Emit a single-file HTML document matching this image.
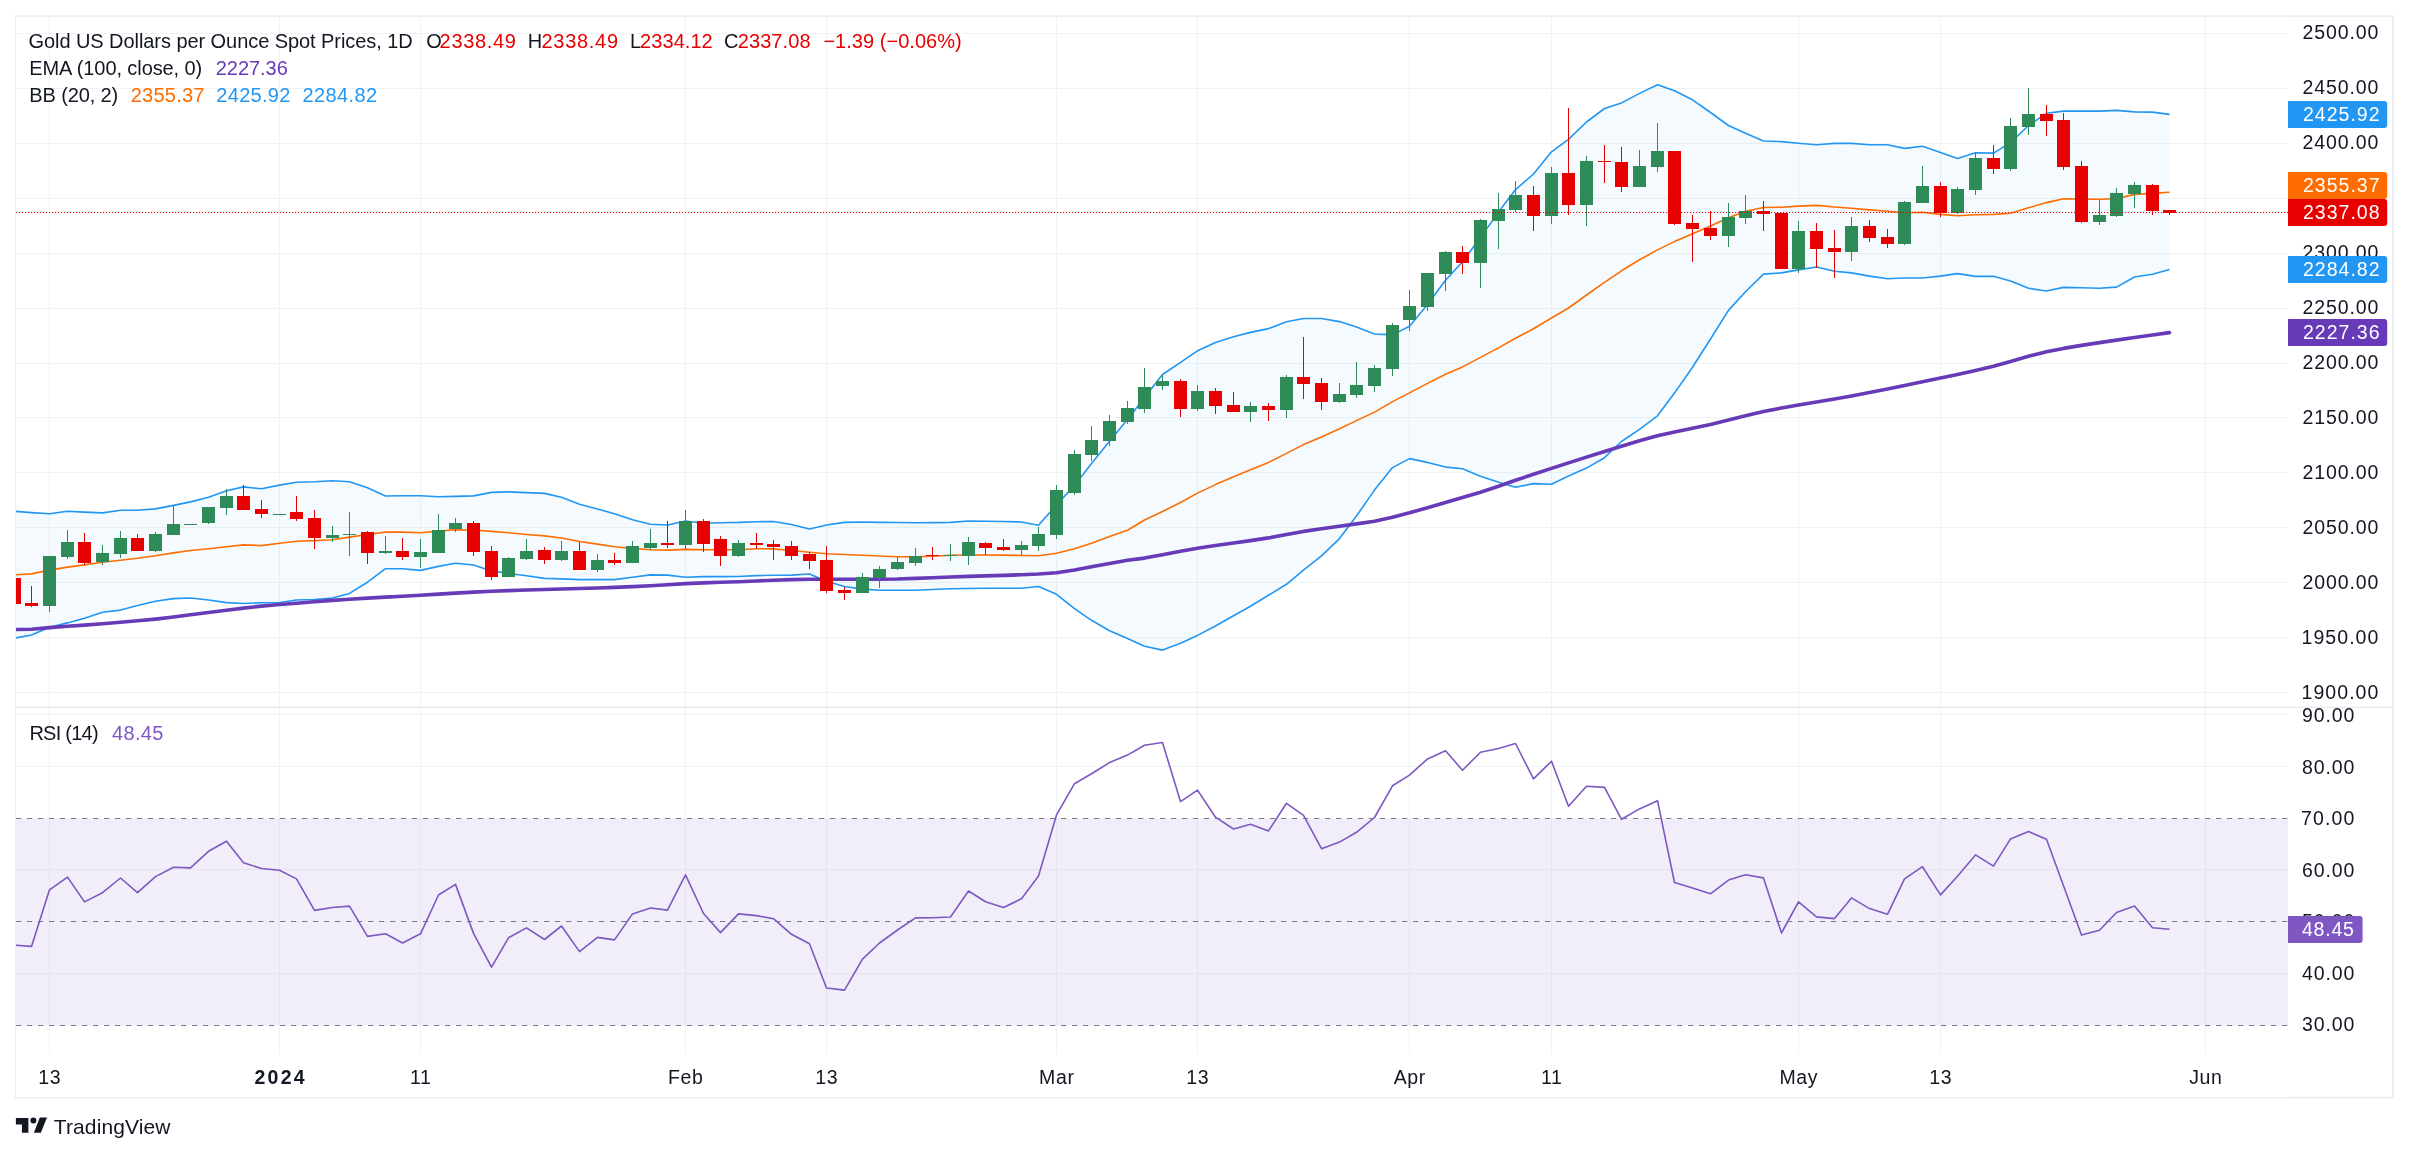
<!DOCTYPE html>
<html><head><meta charset="utf-8"><title>Gold chart</title>
<style>html,body{margin:0;padding:0;background:#fff;width:2409px;height:1154px;overflow:hidden}svg text{font-family:"Liberation Sans", sans-serif}</style>
</head><body>
<svg width="2409" height="1154" viewBox="0 0 2409 1154" style="display:block;will-change:transform">
<defs><clipPath id="plot"><rect x="16.0" y="17.2" width="2272.0" height="1079.8"/></clipPath></defs>
<rect width="2409" height="1154" fill="#fff"/>
<rect x="16" y="16.2" width="2377" height="1081.5" fill="none" stroke="#eceef5" stroke-width="2"/>
<rect x="16" y="17.2" width="2272.0" height="1079.5" fill="#fff"/>
<path d="M16.0 692.5H2288.0M16.0 637.5H2288.0M16.0 582.5H2288.0M16.0 527.5H2288.0M16.0 472.5H2288.0M16.0 417.5H2288.0M16.0 363.5H2288.0M16.0 308.5H2288.0M16.0 253.5H2288.0M16.0 198.5H2288.0M16.0 143.5H2288.0M16.0 88.5H2288.0M16.0 33.5H2288.0M16.0 714.5H2288.0M16.0 766.5H2288.0M16.0 869.5H2288.0M16.0 973.5H2288.0M49.5 17.2V1054.0M279.5 17.2V1054.0M420.5 17.2V1054.0M685.5 17.2V1054.0M826.5 17.2V1054.0M1056.5 17.2V1054.0M1197.5 17.2V1054.0M1409.5 17.2V1054.0M1551.5 17.2V1054.0M1798.5 17.2V1054.0M1940.5 17.2V1054.0M2205.5 17.2V1054.0" stroke="#f0f3f4" stroke-width="1" fill="none"/>
<rect x="16.0" y="818.5" width="2272.0" height="207.0" fill="#7e57c2" fill-opacity="0.1"/>
<path d="M16 818.5H2288.0" stroke="#787b86" stroke-width="1.1" stroke-dasharray="5.2 5.8" fill="none"/>
<path d="M16 921.5H2288.0" stroke="#787b86" stroke-width="1.1" stroke-dasharray="5.2 5.8" fill="none"/>
<path d="M16 1025.5H2288.0" stroke="#787b86" stroke-width="1.1" stroke-dasharray="5.2 5.8" fill="none"/>
<g clip-path="url(#plot)">
<polygon points="14.5,511.3 31.5,512.6 49.5,513.7 67.5,511.3 84.5,512.1 102.5,512.9 120.5,510.3 137.5,510.3 155.5,508.9 173.5,505.4 190.5,501.9 208.5,497.3 226.5,490.8 243.5,486.9 261.5,488.8 279.5,485.1 296.5,482.2 314.5,481.7 332.5,480.8 349.5,481.7 367.5,487.7 385.5,496.0 402.5,495.7 420.5,495.7 438.5,496.7 455.5,496.4 473.5,495.9 491.5,492.4 508.5,491.9 526.5,492.6 544.5,493.4 561.5,497.3 579.5,504.2 597.5,509.0 614.5,513.7 632.5,519.8 650.5,524.3 667.5,525.0 685.5,521.0 703.5,523.3 720.5,522.7 738.5,522.4 756.5,521.7 773.5,521.5 791.5,524.5 809.5,529.0 826.5,525.0 844.5,522.4 862.5,522.0 879.5,522.4 897.5,522.5 915.5,522.7 932.5,522.6 950.5,522.4 968.5,521.0 985.5,521.3 1003.5,521.5 1021.5,522.0 1038.5,525.3 1056.5,504.9 1074.5,485.5 1091.5,463.6 1109.5,441.2 1127.5,419.6 1144.5,397.6 1162.5,374.5 1180.5,362.4 1197.5,350.8 1215.5,342.5 1233.5,336.7 1250.5,332.4 1268.5,328.6 1286.5,321.7 1303.5,318.5 1321.5,318.5 1339.5,321.6 1356.5,327.1 1374.5,334.0 1392.5,334.9 1409.5,326.2 1427.5,304.5 1445.5,280.3 1462.5,261.7 1480.5,237.4 1498.5,212.1 1515.5,189.6 1533.5,174.0 1551.5,151.8 1568.5,139.3 1586.5,122.0 1604.5,108.5 1621.5,102.9 1639.5,93.4 1657.5,84.7 1674.5,90.8 1692.5,99.8 1710.5,112.5 1728.5,125.5 1745.5,133.3 1763.5,141.0 1781.5,141.6 1798.5,143.2 1816.5,144.8 1834.5,143.4 1851.5,143.4 1869.5,144.8 1887.5,144.8 1904.5,148.4 1922.5,146.3 1940.5,152.4 1957.5,158.5 1975.5,152.7 1993.5,153.1 2010.5,142.6 2028.5,125.5 2046.5,113.3 2063.5,111.1 2081.5,111.1 2099.5,111.1 2116.5,110.4 2134.5,111.9 2152.5,112.1 2169.5,114.4 2169.5,269.5 2152.5,274.3 2134.5,277.0 2116.5,287.1 2099.5,288.3 2081.5,287.8 2063.5,287.4 2046.5,291.0 2028.5,288.3 2010.5,281.0 1993.5,276.3 1975.5,276.4 1957.5,273.6 1940.5,276.1 1922.5,278.0 1904.5,278.0 1887.5,278.7 1869.5,276.1 1851.5,272.9 1834.5,271.3 1816.5,267.0 1798.5,269.9 1781.5,272.9 1763.5,274.1 1745.5,291.7 1728.5,310.4 1710.5,339.0 1692.5,367.2 1674.5,393.1 1657.5,415.8 1639.5,429.3 1621.5,441.5 1604.5,457.7 1586.5,468.1 1568.5,476.0 1551.5,484.3 1533.5,483.6 1515.5,487.2 1498.5,482.2 1480.5,476.2 1462.5,468.7 1445.5,467.1 1427.5,462.4 1409.5,458.6 1392.5,467.6 1374.5,490.1 1356.5,516.0 1339.5,538.6 1321.5,555.9 1303.5,570.1 1286.5,584.3 1268.5,595.3 1250.5,606.2 1233.5,615.8 1215.5,626.0 1197.5,635.4 1180.5,643.3 1162.5,650.1 1144.5,646.3 1127.5,638.5 1109.5,630.7 1091.5,620.3 1074.5,608.7 1056.5,594.3 1038.5,586.5 1021.5,588.2 1003.5,588.2 985.5,588.3 968.5,588.5 950.5,588.8 932.5,589.5 915.5,590.3 897.5,590.2 879.5,590.2 862.5,589.1 844.5,586.5 826.5,581.3 809.5,574.0 791.5,575.1 773.5,575.3 756.5,575.6 738.5,576.5 720.5,576.6 703.5,576.6 685.5,577.3 667.5,575.1 650.5,574.9 632.5,577.2 614.5,579.6 597.5,579.6 579.5,579.6 561.5,578.9 544.5,578.4 526.5,575.8 508.5,573.5 491.5,570.9 473.5,565.0 455.5,563.3 438.5,566.4 420.5,570.4 402.5,568.8 385.5,568.7 367.5,582.2 349.5,593.4 332.5,598.1 314.5,599.5 296.5,600.0 279.5,602.5 261.5,602.8 243.5,603.5 226.5,602.6 208.5,600.0 190.5,598.0 173.5,598.6 155.5,601.2 137.5,605.6 120.5,610.1 102.5,612.2 84.5,618.2 67.5,622.9 49.5,627.2 31.5,635.0 14.5,638.2" fill="#2196f3" fill-opacity="0.05"/>
<polyline points="14.5,574.8 31.5,573.9 49.5,570.1 67.5,567.1 84.5,564.9 102.5,562.3 120.5,560.2 137.5,558.3 155.5,555.7 173.5,552.9 190.5,550.5 208.5,548.7 226.5,546.7 243.5,544.9 261.5,545.6 279.5,543.2 296.5,541.2 314.5,540.6 332.5,539.7 349.5,537.1 367.5,534.5 385.5,532.1 402.5,532.1 420.5,532.8 438.5,531.1 455.5,529.7 473.5,530.0 491.5,531.4 508.5,532.8 526.5,534.5 544.5,535.9 561.5,538.0 579.5,541.5 597.5,544.1 614.5,546.7 632.5,548.4 650.5,549.8 667.5,550.1 685.5,549.4 703.5,549.8 720.5,549.8 738.5,549.8 756.5,548.7 773.5,548.9 791.5,550.5 809.5,552.2 826.5,553.8 844.5,554.5 862.5,555.3 879.5,556.0 897.5,556.7 915.5,556.7 932.5,556.2 950.5,555.3 968.5,554.8 985.5,555.0 1003.5,555.1 1021.5,555.5 1038.5,555.8 1056.5,553.2 1074.5,548.7 1091.5,543.2 1109.5,536.6 1127.5,530.2 1144.5,520.0 1162.5,511.5 1180.5,502.5 1197.5,493.1 1215.5,484.6 1233.5,476.7 1250.5,469.8 1268.5,462.4 1286.5,453.4 1303.5,444.6 1321.5,436.9 1339.5,428.8 1356.5,420.6 1374.5,412.1 1392.5,401.6 1409.5,392.9 1427.5,383.4 1445.5,374.2 1462.5,366.9 1480.5,357.4 1498.5,347.9 1515.5,338.3 1533.5,328.8 1551.5,318.0 1568.5,308.0 1586.5,295.0 1604.5,282.3 1621.5,270.8 1639.5,259.8 1657.5,249.9 1674.5,241.6 1692.5,233.8 1710.5,226.0 1728.5,217.8 1745.5,211.3 1763.5,207.5 1781.5,207.3 1798.5,206.1 1816.5,205.4 1834.5,207.0 1851.5,208.2 1869.5,209.9 1887.5,211.3 1904.5,212.7 1922.5,212.2 1940.5,214.4 1957.5,215.8 1975.5,214.8 1993.5,214.4 2010.5,213.3 2028.5,207.8 2046.5,202.6 2063.5,198.8 2081.5,199.1 2099.5,199.3 2116.5,198.6 2134.5,194.4 2152.5,193.4 2169.5,192.2" fill="none" stroke="#ff6d00" stroke-width="1.6" stroke-linejoin="round"/>
<polyline points="14.5,511.3 31.5,512.6 49.5,513.7 67.5,511.3 84.5,512.1 102.5,512.9 120.5,510.3 137.5,510.3 155.5,508.9 173.5,505.4 190.5,501.9 208.5,497.3 226.5,490.8 243.5,486.9 261.5,488.8 279.5,485.1 296.5,482.2 314.5,481.7 332.5,480.8 349.5,481.7 367.5,487.7 385.5,496.0 402.5,495.7 420.5,495.7 438.5,496.7 455.5,496.4 473.5,495.9 491.5,492.4 508.5,491.9 526.5,492.6 544.5,493.4 561.5,497.3 579.5,504.2 597.5,509.0 614.5,513.7 632.5,519.8 650.5,524.3 667.5,525.0 685.5,521.0 703.5,523.3 720.5,522.7 738.5,522.4 756.5,521.7 773.5,521.5 791.5,524.5 809.5,529.0 826.5,525.0 844.5,522.4 862.5,522.0 879.5,522.4 897.5,522.5 915.5,522.7 932.5,522.6 950.5,522.4 968.5,521.0 985.5,521.3 1003.5,521.5 1021.5,522.0 1038.5,525.3 1056.5,504.9 1074.5,485.5 1091.5,463.6 1109.5,441.2 1127.5,419.6 1144.5,397.6 1162.5,374.5 1180.5,362.4 1197.5,350.8 1215.5,342.5 1233.5,336.7 1250.5,332.4 1268.5,328.6 1286.5,321.7 1303.5,318.5 1321.5,318.5 1339.5,321.6 1356.5,327.1 1374.5,334.0 1392.5,334.9 1409.5,326.2 1427.5,304.5 1445.5,280.3 1462.5,261.7 1480.5,237.4 1498.5,212.1 1515.5,189.6 1533.5,174.0 1551.5,151.8 1568.5,139.3 1586.5,122.0 1604.5,108.5 1621.5,102.9 1639.5,93.4 1657.5,84.7 1674.5,90.8 1692.5,99.8 1710.5,112.5 1728.5,125.5 1745.5,133.3 1763.5,141.0 1781.5,141.6 1798.5,143.2 1816.5,144.8 1834.5,143.4 1851.5,143.4 1869.5,144.8 1887.5,144.8 1904.5,148.4 1922.5,146.3 1940.5,152.4 1957.5,158.5 1975.5,152.7 1993.5,153.1 2010.5,142.6 2028.5,125.5 2046.5,113.3 2063.5,111.1 2081.5,111.1 2099.5,111.1 2116.5,110.4 2134.5,111.9 2152.5,112.1 2169.5,114.4" fill="none" stroke="#2196f3" stroke-width="1.6" stroke-linejoin="round"/>
<polyline points="14.5,638.2 31.5,635.0 49.5,627.2 67.5,622.9 84.5,618.2 102.5,612.2 120.5,610.1 137.5,605.6 155.5,601.2 173.5,598.6 190.5,598.0 208.5,600.0 226.5,602.6 243.5,603.5 261.5,602.8 279.5,602.5 296.5,600.0 314.5,599.5 332.5,598.1 349.5,593.4 367.5,582.2 385.5,568.7 402.5,568.8 420.5,570.4 438.5,566.4 455.5,563.3 473.5,565.0 491.5,570.9 508.5,573.5 526.5,575.8 544.5,578.4 561.5,578.9 579.5,579.6 597.5,579.6 614.5,579.6 632.5,577.2 650.5,574.9 667.5,575.1 685.5,577.3 703.5,576.6 720.5,576.6 738.5,576.5 756.5,575.6 773.5,575.3 791.5,575.1 809.5,574.0 826.5,581.3 844.5,586.5 862.5,589.1 879.5,590.2 897.5,590.2 915.5,590.3 932.5,589.5 950.5,588.8 968.5,588.5 985.5,588.3 1003.5,588.2 1021.5,588.2 1038.5,586.5 1056.5,594.3 1074.5,608.7 1091.5,620.3 1109.5,630.7 1127.5,638.5 1144.5,646.3 1162.5,650.1 1180.5,643.3 1197.5,635.4 1215.5,626.0 1233.5,615.8 1250.5,606.2 1268.5,595.3 1286.5,584.3 1303.5,570.1 1321.5,555.9 1339.5,538.6 1356.5,516.0 1374.5,490.1 1392.5,467.6 1409.5,458.6 1427.5,462.4 1445.5,467.1 1462.5,468.7 1480.5,476.2 1498.5,482.2 1515.5,487.2 1533.5,483.6 1551.5,484.3 1568.5,476.0 1586.5,468.1 1604.5,457.7 1621.5,441.5 1639.5,429.3 1657.5,415.8 1674.5,393.1 1692.5,367.2 1710.5,339.0 1728.5,310.4 1745.5,291.7 1763.5,274.1 1781.5,272.9 1798.5,269.9 1816.5,267.0 1834.5,271.3 1851.5,272.9 1869.5,276.1 1887.5,278.7 1904.5,278.0 1922.5,278.0 1940.5,276.1 1957.5,273.6 1975.5,276.4 1993.5,276.3 2010.5,281.0 2028.5,288.3 2046.5,291.0 2063.5,287.4 2081.5,287.8 2099.5,288.3 2116.5,287.1 2134.5,277.0 2152.5,274.3 2169.5,269.5" fill="none" stroke="#2196f3" stroke-width="1.6" stroke-linejoin="round"/>
<polyline points="14.5,629.5 31.5,629.3 49.5,627.6 67.5,626.3 84.5,625.1 102.5,623.8 120.5,622.3 137.5,620.8 155.5,619.1 173.5,617.0 190.5,614.8 208.5,612.5 226.5,610.2 243.5,608.1 261.5,606.1 279.5,604.5 296.5,603.2 314.5,601.8 332.5,600.4 349.5,599.2 367.5,598.1 385.5,597.1 402.5,596.2 420.5,595.2 438.5,594.1 455.5,593.1 473.5,592.1 491.5,591.3 508.5,590.6 526.5,590.0 544.5,589.5 561.5,589.0 579.5,588.5 597.5,588.0 614.5,587.4 632.5,586.6 650.5,585.7 667.5,584.8 685.5,583.6 703.5,582.9 720.5,582.3 738.5,581.7 756.5,581.0 773.5,580.2 791.5,579.6 809.5,579.2 826.5,579.2 844.5,579.2 862.5,579.2 879.5,579.2 897.5,579.0 915.5,578.4 932.5,577.7 950.5,577.0 968.5,576.4 985.5,575.9 1003.5,575.4 1021.5,574.7 1038.5,574.0 1056.5,572.7 1074.5,570.0 1091.5,566.8 1109.5,563.5 1127.5,560.3 1144.5,558.1 1162.5,554.8 1180.5,551.2 1197.5,548.2 1215.5,545.5 1233.5,543.0 1250.5,540.6 1268.5,537.9 1286.5,534.5 1303.5,531.4 1321.5,528.7 1339.5,526.2 1356.5,523.9 1374.5,521.2 1392.5,517.2 1409.5,512.8 1427.5,507.7 1445.5,502.4 1462.5,497.4 1480.5,492.2 1498.5,486.3 1515.5,480.3 1533.5,474.3 1551.5,468.4 1568.5,462.9 1586.5,457.1 1604.5,451.5 1621.5,446.2 1639.5,440.7 1657.5,435.8 1674.5,432.0 1692.5,428.3 1710.5,424.5 1728.5,420.1 1745.5,415.7 1763.5,411.5 1781.5,408.0 1798.5,405.0 1816.5,402.0 1834.5,399.0 1851.5,395.9 1869.5,392.4 1887.5,388.9 1904.5,385.5 1922.5,381.8 1940.5,378.1 1957.5,374.4 1975.5,370.5 1993.5,366.3 2010.5,361.6 2028.5,356.3 2046.5,351.7 2063.5,348.4 2081.5,345.4 2099.5,342.6 2116.5,340.1 2134.5,337.5 2152.5,335.0 2169.5,332.6" fill="none" stroke="#673ab7" stroke-width="3.6" stroke-linejoin="round" stroke-linecap="round"/>
<path d="M49.0 556h1V612h-1zM43.0 556h13v50h-13zM67.0 530h1V559h-1zM61.0 542h13v15h-13zM102.0 545h1V565h-1zM96.0 553h13v9h-13zM120.0 531h1V558h-1zM114.0 538h13v16h-13zM155.0 532h1V552h-1zM149.0 534h13v17h-13zM173.0 505h1V535h-1zM167.0 524h13v11h-13zM190.0 524h1V525h-1zM184.0 524h13v1h-13zM208.0 507h1V524h-1zM202.0 507h13v16h-13zM226.0 489h1V515h-1zM220.0 496h13v12h-13zM279.0 514h1V515h-1zM273.0 514h13v1h-13zM332.0 526h1V542h-1zM326.0 535h13v3h-13zM349.0 512h1V556h-1zM343.0 534h13v1h-13zM385.0 536h1V554h-1zM379.0 551h13v2h-13zM420.0 539h1V568h-1zM414.0 552h13v5h-13zM438.0 514h1V553h-1zM432.0 530h13v23h-13zM455.0 518h1V532h-1zM449.0 523h13v6h-13zM508.0 557h1V577h-1zM502.0 558h13v19h-13zM526.0 539h1V560h-1zM520.0 551h13v8h-13zM561.0 541h1V561h-1zM555.0 551h13v9h-13zM597.0 554h1V572h-1zM591.0 560h13v10h-13zM632.0 541h1V563h-1zM626.0 546h13v17h-13zM650.0 529h1V550h-1zM644.0 543h13v5h-13zM685.0 510h1V549h-1zM679.0 521h13v24h-13zM738.0 540h1V557h-1zM732.0 543h13v13h-13zM862.0 573h1V593h-1zM856.0 577h13v16h-13zM879.0 566h1V588h-1zM873.0 569h13v9h-13zM897.0 557h1V570h-1zM891.0 562h13v7h-13zM915.0 548h1V566h-1zM909.0 556h13v7h-13zM950.0 544h1V561h-1zM944.0 555h13v1h-13zM968.0 537h1V565h-1zM962.0 542h13v14h-13zM1021.0 541h1V555h-1zM1015.0 545h13v5h-13zM1038.0 527h1V551h-1zM1032.0 534h13v12h-13zM1056.0 485h1V539h-1zM1050.0 490h13v45h-13zM1074.0 450h1V495h-1zM1068.0 454h13v39h-13zM1091.0 426h1V461h-1zM1085.0 440h13v15h-13zM1109.0 415h1V446h-1zM1103.0 421h13v20h-13zM1127.0 401h1V424h-1zM1121.0 408h13v14h-13zM1144.0 368h1V413h-1zM1138.0 387h13v22h-13zM1162.0 375h1V390h-1zM1156.0 381h13v5h-13zM1197.0 385h1V411h-1zM1191.0 391h13v18h-13zM1250.0 402h1V422h-1zM1244.0 406h13v6h-13zM1286.0 375h1V418h-1zM1280.0 377h13v33h-13zM1339.0 383h1V403h-1zM1333.0 394h13v8h-13zM1356.0 362h1V398h-1zM1350.0 385h13v10h-13zM1374.0 365h1V392h-1zM1368.0 368h13v18h-13zM1392.0 323h1V376h-1zM1386.0 325h13v44h-13zM1409.0 290h1V331h-1zM1403.0 306h13v14h-13zM1427.0 273h1V311h-1zM1421.0 273h13v34h-13zM1445.0 251h1V291h-1zM1439.0 252h13v22h-13zM1480.0 219h1V288h-1zM1474.0 220h13v43h-13zM1498.0 193h1V249h-1zM1492.0 209h13v12h-13zM1515.0 181h1V212h-1zM1509.0 195h13v15h-13zM1551.0 167h1V224h-1zM1545.0 173h13v43h-13zM1586.0 156h1V226h-1zM1580.0 161h13v44h-13zM1639.0 150h1V187h-1zM1633.0 166h13v21h-13zM1657.0 123h1V172h-1zM1651.0 151h13v16h-13zM1728.0 203h1V247h-1zM1722.0 217h13v19h-13zM1745.0 195h1V224h-1zM1739.0 211h13v7h-13zM1798.0 221h1V273h-1zM1792.0 231h13v38h-13zM1851.0 217h1V261h-1zM1845.0 226h13v26h-13zM1904.0 201h1V245h-1zM1898.0 202h13v42h-13zM1922.0 166h1V203h-1zM1916.0 186h13v17h-13zM1957.0 187h1V214h-1zM1951.0 189h13v24h-13zM1975.0 153h1V195h-1zM1969.0 158h13v32h-13zM2010.0 118h1V171h-1zM2004.0 126h13v43h-13zM2028.0 88h1V135h-1zM2022.0 114h13v13h-13zM2099.0 200h1V225h-1zM2093.0 215h13v7h-13zM2116.0 188h1V217h-1zM2110.0 193h13v23h-13zM2134.0 182h1V208h-1zM2128.0 185h13v9h-13z" fill="#2e8b57"/>
<path d="M14.0 578h1V604h-1zM8.0 578h13v26h-13zM31.0 586h1V607h-1zM25.0 603h13v3h-13zM84.0 533h1V565h-1zM78.0 542h13v21h-13zM137.0 534h1V551h-1zM131.0 538h13v13h-13zM243.0 485h1V510h-1zM237.0 496h13v14h-13zM261.0 500h1V518h-1zM255.0 509h13v5h-13zM296.0 496h1V521h-1zM290.0 512h13v7h-13zM314.0 510h1V549h-1zM308.0 518h13v20h-13zM367.0 531h1V564h-1zM361.0 532h13v21h-13zM402.0 538h1V560h-1zM396.0 551h13v6h-13zM473.0 521h1V556h-1zM467.0 523h13v29h-13zM491.0 546h1V580h-1zM485.0 551h13v26h-13zM544.0 547h1V564h-1zM538.0 550h13v10h-13zM579.0 542h1V570h-1zM573.0 551h13v19h-13zM614.0 553h1V565h-1zM608.0 560h13v3h-13zM667.0 521h1V548h-1zM661.0 543h13v2h-13zM703.0 519h1V552h-1zM697.0 521h13v23h-13zM720.0 536h1V566h-1zM714.0 539h13v17h-13zM756.0 533h1V549h-1zM750.0 543h13v2h-13zM773.0 540h1V560h-1zM767.0 544h13v3h-13zM791.0 541h1V560h-1zM785.0 546h13v10h-13zM809.0 552h1V569h-1zM803.0 554h13v7h-13zM826.0 546h1V593h-1zM820.0 560h13v31h-13zM844.0 587h1V600h-1zM838.0 590h13v3h-13zM932.0 547h1V560h-1zM926.0 555h13v1h-13zM985.0 542h1V555h-1zM979.0 543h13v5h-13zM1003.0 539h1V551h-1zM997.0 547h13v3h-13zM1180.0 379h1V417h-1zM1174.0 381h13v28h-13zM1215.0 388h1V414h-1zM1209.0 391h13v15h-13zM1233.0 392h1V412h-1zM1227.0 405h13v7h-13zM1268.0 403h1V421h-1zM1262.0 406h13v4h-13zM1303.0 337h1V399h-1zM1297.0 377h13v7h-13zM1321.0 378h1V410h-1zM1315.0 383h13v19h-13zM1462.0 246h1V274h-1zM1456.0 252h13v11h-13zM1533.0 186h1V231h-1zM1527.0 195h13v21h-13zM1568.0 108h1V215h-1zM1562.0 173h13v32h-13zM1604.0 145h1V183h-1zM1598.0 161h13v1h-13zM1621.0 147h1V192h-1zM1615.0 162h13v25h-13zM1674.0 151h1V225h-1zM1668.0 151h13v73h-13zM1692.0 215h1V262h-1zM1686.0 223h13v6h-13zM1710.0 211h1V240h-1zM1704.0 228h13v8h-13zM1763.0 201h1V231h-1zM1757.0 211h13v3h-13zM1781.0 213h1V269h-1zM1775.0 213h13v56h-13zM1816.0 223h1V268h-1zM1810.0 231h13v18h-13zM1834.0 230h1V278h-1zM1828.0 248h13v4h-13zM1869.0 220h1V242h-1zM1863.0 226h13v12h-13zM1887.0 229h1V248h-1zM1881.0 237h13v7h-13zM1940.0 182h1V217h-1zM1934.0 186h13v27h-13zM1993.0 145h1V174h-1zM1987.0 158h13v11h-13zM2046.0 105h1V136h-1zM2040.0 114h13v7h-13zM2063.0 113h1V170h-1zM2057.0 120h13v47h-13zM2081.0 161h1V223h-1zM2075.0 166h13v56h-13zM2152.0 184h1V215h-1zM2146.0 185h13v26h-13zM2169.0 210h1V215h-1zM2163.0 210h13v3h-13z" fill="#e60000"/>
<polyline points="14.5,945.2 31.5,946.4 49.5,889.8 67.5,877.1 84.5,901.9 102.5,892.7 120.5,878.0 137.5,892.7 155.5,876.6 173.5,867.2 190.5,867.9 208.5,851.3 226.5,841.2 243.5,862.7 261.5,868.5 279.5,870.2 296.5,878.9 314.5,910.4 332.5,907.5 349.5,906.1 367.5,936.4 385.5,933.8 402.5,943.0 420.5,933.8 438.5,895.0 455.5,884.4 473.5,933.4 491.5,967.2 508.5,937.8 526.5,927.9 544.5,939.5 561.5,926.0 579.5,951.6 597.5,937.4 614.5,939.9 632.5,913.9 650.5,908.0 667.5,910.1 685.5,874.9 703.5,913.5 720.5,932.6 738.5,913.9 756.5,915.6 773.5,918.7 791.5,934.3 809.5,943.8 826.5,988.0 844.5,990.1 862.5,959.1 879.5,943.0 897.5,930.0 915.5,917.9 932.5,917.7 950.5,917.0 968.5,891.0 985.5,901.7 1003.5,907.5 1021.5,898.8 1038.5,875.9 1056.5,814.9 1074.5,783.7 1091.5,773.8 1109.5,762.6 1127.5,755.1 1144.5,745.3 1162.5,742.5 1180.5,801.6 1197.5,790.1 1215.5,817.2 1233.5,829.0 1250.5,824.3 1268.5,830.9 1286.5,803.3 1303.5,815.3 1321.5,848.7 1339.5,842.1 1356.5,832.3 1374.5,817.5 1392.5,785.8 1409.5,775.1 1427.5,758.9 1445.5,750.8 1462.5,770.2 1480.5,752.2 1498.5,748.5 1515.5,743.5 1533.5,778.9 1551.5,761.2 1568.5,806.3 1586.5,786.3 1604.5,787.4 1621.5,819.3 1639.5,808.9 1657.5,800.7 1674.5,882.5 1692.5,888.1 1710.5,893.8 1728.5,880.1 1745.5,874.8 1763.5,877.9 1781.5,933.0 1798.5,901.8 1816.5,916.9 1834.5,918.6 1851.5,897.9 1869.5,908.6 1887.5,914.3 1904.5,878.8 1922.5,866.7 1940.5,894.9 1957.5,876.2 1975.5,854.9 1993.5,866.1 2010.5,838.9 2028.5,831.6 2046.5,839.3 2063.5,885.7 2081.5,935.1 2099.5,930.3 2116.5,912.5 2134.5,905.9 2152.5,927.8 2169.5,929.3" fill="none" stroke="#7e57c2" stroke-width="1.6" stroke-linejoin="round"/>
</g>
<path d="M16 212.5H2288.0" stroke="#e60000" stroke-width="1.15" stroke-dasharray="1.15 1.85" fill="none"/>
<path d="M15.0 707.3H2393" stroke="#e0e3eb" stroke-width="1.1" fill="none"/>
<g style='font-family:"Liberation Sans", sans-serif;font-size:19.5px;letter-spacing:0.6px' fill="#131722" text-anchor="middle">
<text x="49.8" y="1084.2">13</text>
<text x="280.7" y="1084.2" font-weight="bold" letter-spacing="2.3">2024</text>
<text x="420.8" y="1084.2">11</text>
<text x="685.8" y="1084.2">Feb</text>
<text x="826.8" y="1084.2">13</text>
<text x="1056.8" y="1084.2">Mar</text>
<text x="1197.8" y="1084.2">13</text>
<text x="1409.8" y="1084.2">Apr</text>
<text x="1551.8" y="1084.2">11</text>
<text x="1798.8" y="1084.2">May</text>
<text x="1940.8" y="1084.2">13</text>
<text x="2205.8" y="1084.2">Jun</text>
</g>
<text x="2301.60" y="698.9" fill="#131722" font-size="19.5" letter-spacing="1.043" xml:space="preserve">1900.00</text>
<text x="2301.60" y="643.9" fill="#131722" font-size="19.5" letter-spacing="1.043" xml:space="preserve">1950.00</text>
<text x="2302.60" y="588.9" fill="#131722" font-size="19.5" letter-spacing="0.876" xml:space="preserve">2000.00</text>
<text x="2302.60" y="533.9" fill="#131722" font-size="19.5" letter-spacing="0.876" xml:space="preserve">2050.00</text>
<text x="2302.60" y="478.9" fill="#131722" font-size="19.5" letter-spacing="0.876" xml:space="preserve">2100.00</text>
<text x="2302.60" y="423.9" fill="#131722" font-size="19.5" letter-spacing="0.876" xml:space="preserve">2150.00</text>
<text x="2302.60" y="368.9" fill="#131722" font-size="19.5" letter-spacing="0.876" xml:space="preserve">2200.00</text>
<text x="2302.60" y="313.9" fill="#131722" font-size="19.5" letter-spacing="0.876" xml:space="preserve">2250.00</text>
<text x="2302.60" y="258.9" fill="#131722" font-size="19.5" letter-spacing="0.876" xml:space="preserve">2300.00</text>
<text x="2302.60" y="149.0" fill="#131722" font-size="19.5" letter-spacing="0.876" xml:space="preserve">2400.00</text>
<text x="2302.60" y="94.0" fill="#131722" font-size="19.5" letter-spacing="0.876" xml:space="preserve">2450.00</text>
<text x="2302.60" y="39.0" fill="#131722" font-size="19.5" letter-spacing="0.876" xml:space="preserve">2500.00</text>
<text x="2301.90" y="1031.4" fill="#131722" font-size="19.5" letter-spacing="0.912" xml:space="preserve">30.00</text>
<text x="2301.90" y="979.8" fill="#131722" font-size="19.5" letter-spacing="0.912" xml:space="preserve">40.00</text>
<text x="2301.90" y="928.2" fill="#131722" font-size="19.5" letter-spacing="0.912" xml:space="preserve">50.00</text>
<text x="2301.90" y="876.7" fill="#131722" font-size="19.5" letter-spacing="0.912" xml:space="preserve">60.00</text>
<text x="2300.90" y="825.1" fill="#131722" font-size="19.5" letter-spacing="1.162" xml:space="preserve">70.00</text>
<text x="2301.90" y="773.5" fill="#131722" font-size="19.5" letter-spacing="0.912" xml:space="preserve">80.00</text>
<text x="2301.90" y="722.0" fill="#131722" font-size="19.5" letter-spacing="0.912" xml:space="preserve">90.00</text>
<path d="M2288 101.0h96.2a3 3 0 0 1 3 3v21a3 3 0 0 1 -3 3h-96.2z" fill="#2196f3"/>
<path d="M2288 172.0h96.2a3 3 0 0 1 3 3v21a3 3 0 0 1 -3 3h-96.2z" fill="#ff6d00"/>
<path d="M2288 199.0h96.2a3 3 0 0 1 3 3v21a3 3 0 0 1 -3 3h-96.2z" fill="#e60000"/>
<path d="M2288 256.0h96.2a3 3 0 0 1 3 3v21a3 3 0 0 1 -3 3h-96.2z" fill="#2196f3"/>
<path d="M2288 319.0h96.2a3 3 0 0 1 3 3v21a3 3 0 0 1 -3 3h-96.2z" fill="#673ab7"/>
<path d="M2288 916.0h71.6a3 3 0 0 1 3 3v21a3 3 0 0 1 -3 3h-71.6z" fill="#7e57c2"/>
<text x="2303.00" y="121.2" fill="#fff" font-size="19.5" letter-spacing="1.010" xml:space="preserve">2425.92</text>
<text x="2303.00" y="192.2" fill="#fff" font-size="19.5" letter-spacing="1.010" xml:space="preserve">2355.37</text>
<text x="2303.00" y="219.2" fill="#fff" font-size="19.5" letter-spacing="1.010" xml:space="preserve">2337.08</text>
<text x="2303.00" y="276.2" fill="#fff" font-size="19.5" letter-spacing="1.010" xml:space="preserve">2284.82</text>
<text x="2303.00" y="339.2" fill="#fff" font-size="19.5" letter-spacing="1.010" xml:space="preserve">2227.36</text>
<text x="2302.00" y="936.2" fill="#fff" font-size="19.5" letter-spacing="0.762" xml:space="preserve">48.45</text>
<text x="28.50" y="48.4" fill="#131722" font-size="20" letter-spacing="-0.065" xml:space="preserve">Gold US Dollars per Ounce Spot Prices, 1D</text>
<text x="426.20" y="48.4" fill="#131722" font-size="20" letter-spacing="0.000" xml:space="preserve">O</text>
<text x="439.60" y="48.4" fill="#e60000" font-size="20" letter-spacing="0.671" xml:space="preserve">2338.49</text>
<text x="527.80" y="48.4" fill="#131722" font-size="20" letter-spacing="0.000" xml:space="preserve">H</text>
<text x="541.50" y="48.4" fill="#e60000" font-size="20" letter-spacing="0.705" xml:space="preserve">2338.49</text>
<text x="629.90" y="48.4" fill="#131722" font-size="20" letter-spacing="0.000" xml:space="preserve">L</text>
<text x="640.10" y="48.4" fill="#e60000" font-size="20" letter-spacing="0.055" xml:space="preserve">2334.12</text>
<text x="724.00" y="48.4" fill="#131722" font-size="20" letter-spacing="0.000" xml:space="preserve">C</text>
<text x="737.70" y="48.4" fill="#e60000" font-size="20" letter-spacing="0.105" xml:space="preserve">2337.08</text>
<text x="823.40" y="48.4" fill="#e60000" font-size="20" letter-spacing="0.038" xml:space="preserve">−1.39 (−0.06%)</text>
<text x="29.30" y="74.9" fill="#131722" font-size="20" letter-spacing="-0.087" xml:space="preserve">EMA (100, close, 0)</text>
<text x="215.80" y="74.9" fill="#673ab7" font-size="20" letter-spacing="-0.045" xml:space="preserve">2227.36</text>
<text x="29.30" y="101.5" fill="#131722" font-size="20" letter-spacing="-0.120" xml:space="preserve">BB (20, 2)</text>
<text x="130.70" y="101.5" fill="#ff6d00" font-size="20" letter-spacing="0.238" xml:space="preserve">2355.37</text>
<text x="216.30" y="101.5" fill="#2196f3" font-size="20" letter-spacing="0.305" xml:space="preserve">2425.92</text>
<text x="302.40" y="101.5" fill="#2196f3" font-size="20" letter-spacing="0.405" xml:space="preserve">2284.82</text>
<text x="29.40" y="739.9" fill="#131722" font-size="20" letter-spacing="-0.743" xml:space="preserve">RSI (14)</text>
<text x="112.00" y="739.9" fill="#7e57c2" font-size="20" letter-spacing="0.319" xml:space="preserve">48.45</text>
<text x="53.80" y="1133.6" fill="#131722" font-size="21" letter-spacing="0.110" xml:space="preserve">TradingView</text>
<g fill="#131722">
<path d="M15.9 1117.9H28.4V1132.8H21.9V1124.4H15.9z"/>
<circle cx="33.4" cy="1120.6" r="3"/>
<path d="M39.8 1117.6H47L40.8 1132.8H33.9z"/>
</g>
</svg>
</body></html>
